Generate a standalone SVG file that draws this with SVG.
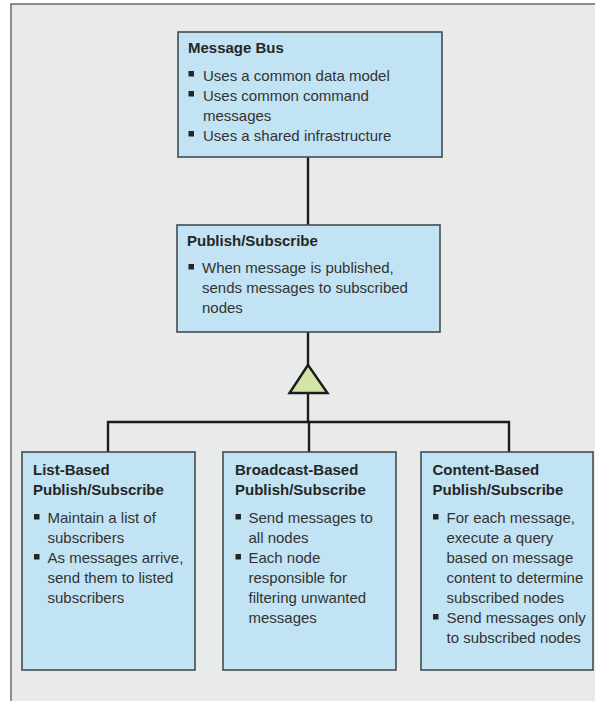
<svg xmlns="http://www.w3.org/2000/svg" width="595" height="701" viewBox="0 0 595 701">
  <style>
    .frame { fill: #e9eaea; stroke: #6f7476; stroke-width: 1.6; }
    .box { fill: #c2e3f3; stroke: #454b50; stroke-width: 1.6; }
    .title { font-family: "Liberation Sans", Arial, sans-serif; font-size: 15px; font-weight: bold; fill: #262626; }
    .body { font-family: "Liberation Sans", Arial, sans-serif; font-size: 15px; fill: #333333; }
    .bullet { fill: #262626; }
    .wire { fill: none; stroke: #1c1c1c; stroke-width: 2.4; }
    .tri { fill: #d3e4a8; stroke: #1c1c1c; stroke-width: 2.4; stroke-linejoin: miter; }
  </style>
  <defs>
    <rect id="sq" x="0" y="-8" width="5.5" height="5.5"/>
  </defs>

  <rect width="595" height="701" fill="#ffffff"/>
  <rect class="frame" x="11" y="4" width="600" height="710"/>

  <g id="connectors">
    <line class="wire" x1="308" y1="157" x2="308" y2="225"/>
    <line class="wire" x1="308" y1="332" x2="308" y2="366"/>
    <line class="wire" x1="308" y1="393" x2="308" y2="422"/>
    <polyline class="wire" points="108,452 108,422 509,422 509,452"/>
    <line class="wire" x1="309" y1="422" x2="309" y2="452"/>
    <polygon class="tri" points="308,365 327.5,393 289.5,393"/>
  </g>

  <g id="message-bus">
    <rect class="box" x="178" y="32" width="264" height="125"/>
    <text class="title" x="188" y="53">Message Bus</text>
    <use href="#sq" class="bullet" x="188.5" y="79"/>
    <use href="#sq" class="bullet" x="188.5" y="99"/>
    <use href="#sq" class="bullet" x="188.5" y="139"/>
    <text class="body" x="203" y="80.5">Uses a common data model</text>
    <text class="body" x="203" y="100.5">Uses common command</text>
    <text class="body" x="203" y="120.5">messages</text>
    <text class="body" x="203" y="140.5">Uses a shared infrastructure</text>
  </g>

  <g id="publish-subscribe">
    <rect class="box" x="177" y="225" width="263" height="107"/>
    <text class="title" x="187" y="246">Publish/Subscribe</text>
    <use href="#sq" class="bullet" x="188.5" y="272"/>
    <text class="body" x="202" y="273.3">When message is published,</text>
    <text class="body" x="202" y="293.3">sends messages to subscribed</text>
    <text class="body" x="202" y="313">nodes</text>
  </g>

  <g id="list-based">
    <rect class="box" x="22" y="452" width="173" height="218"/>
    <text class="title" x="33" y="475">List-Based</text>
    <text class="title" x="33" y="495">Publish/Subscribe</text>
    <use href="#sq" class="bullet" x="34" y="522"/>
    <use href="#sq" class="bullet" x="34" y="562"/>
    <text class="body" x="47.5" y="523.3">Maintain a list of</text>
    <text class="body" x="47.5" y="543.3">subscribers</text>
    <text class="body" x="47.5" y="563.3">As messages arrive,</text>
    <text class="body" x="47.5" y="583.3">send them to listed</text>
    <text class="body" x="47.5" y="603.3">subscribers</text>
  </g>

  <g id="broadcast-based">
    <rect class="box" x="223" y="452" width="173" height="218"/>
    <text class="title" x="235" y="475">Broadcast-Based</text>
    <text class="title" x="235" y="495">Publish/Subscribe</text>
    <use href="#sq" class="bullet" x="235.5" y="522"/>
    <use href="#sq" class="bullet" x="235.5" y="562"/>
    <text class="body" x="248.5" y="523.3">Send messages to</text>
    <text class="body" x="248.5" y="543.3">all nodes</text>
    <text class="body" x="248.5" y="563.3">Each node</text>
    <text class="body" x="248.5" y="583.3">responsible for</text>
    <text class="body" x="248.5" y="603.3">filtering unwanted</text>
    <text class="body" x="248.5" y="623.3">messages</text>
  </g>

  <g id="content-based">
    <rect class="box" x="421" y="452" width="172" height="218"/>
    <text class="title" x="432.5" y="475">Content-Based</text>
    <text class="title" x="432.5" y="495">Publish/Subscribe</text>
    <use href="#sq" class="bullet" x="433" y="522"/>
    <use href="#sq" class="bullet" x="433" y="622"/>
    <text class="body" x="446.5" y="523.3">For each message,</text>
    <text class="body" x="446.5" y="543.3">execute a query</text>
    <text class="body" x="446.5" y="563.3">based on message</text>
    <text class="body" x="446.5" y="583.3">content to determine</text>
    <text class="body" x="446.5" y="603.3">subscribed nodes</text>
    <text class="body" x="446.5" y="623.3">Send messages only</text>
    <text class="body" x="446.5" y="643.3">to subscribed nodes</text>
  </g>
</svg>
